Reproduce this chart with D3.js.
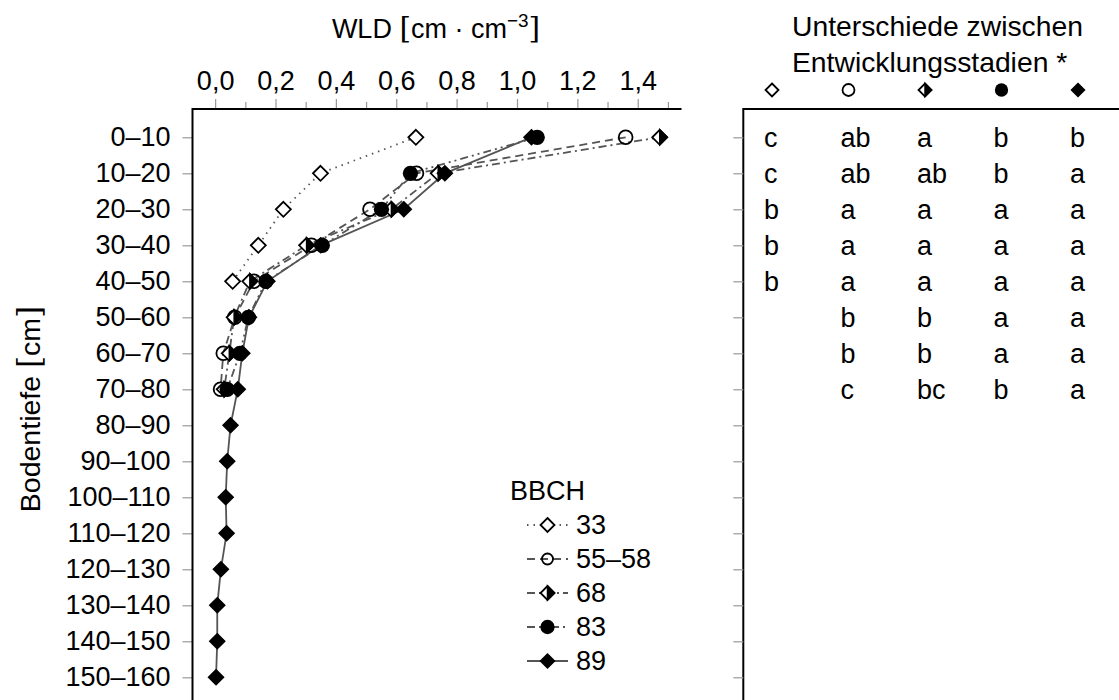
<!DOCTYPE html>
<html><head><meta charset="utf-8">
<script src="https://cdn.jsdelivr.net/npm/d3@7"></script>
<style>
body{margin:0;background:#fff;}
text{font-family:"Liberation Sans",Arial,Helvetica,sans-serif;fill:#000;}
</style></head>
<body><svg id="c" width="1119" height="700"></svg>
<script>
// ---------- data ----------
const depths = ["0–10","10–20","20–30","30–40","40–50","50–60","60–70","70–80",
  "80–90","90–100","100–110","110–120","120–130","130–140","140–150","150–160"];
const seriesNames = ["33","55–58","68","83","89"];
const wld33   = [0.665,0.349,0.226,0.143,0.058];
const wld5558 = [1.360,0.667,0.513,0.319,0.128,0.065,0.027,0.018];
const wld68   = [1.473,0.739,0.584,0.303,0.115,0.063,0.047,0.030];
const wld83   = [1.067,0.647,0.551,0.355,0.168,0.110,0.082,0.040];
const wld89   = [1.048,0.761,0.625,0.350,0.173,0.112,0.090,0.075,0.051,0.040,0.035,0.038,0.019,0.007,0.007,0.003];
const xMajorTicks = [0,0.2,0.4,0.6,0.8,1.0,1.2,1.4];
const xMinorTicks = [0.1,0.3,0.5,0.7,0.9,1.1,1.3,1.5];
const letters33   = ["c","c","b","b","b"];
const letters5558 = ["ab","ab","a","a","a","b","b","c"];
const letters68   = ["a","ab","a","a","a","b","b","bc"];
const letters83   = ["b","b","a","a","a","a","a","b"];
const letters89   = ["b","a","a","a","a","a","a","a"];

const markers = ["diamondOpen","circleOpen","diamondHalf","circleFilled","diamondFilled"];
const dashes  = ["1.5,5","8,5","8,4,2,4","8,4,2,4,2,4",null];
const values  = [wld33,wld5558,wld68,wld83,wld89];
const letters = [letters33,letters5558,letters68,letters83,letters89];

// ---------- layout ----------
const svg = d3.select("#c");
const FS = 27;
const topY = 109, leftX = 192.5, rightX = 681.5;
const x = d3.scaleLinear().domain([-0.075,1.545]).range([leftX,rightX]);
const y = d3.scalePoint().domain(depths).range([137.3,677.3]);
const fmt = d3.formatLocale({decimal:",",thousands:".",grouping:[3],currency:["","€"]}).format(".1f");
const lineCol = "#555";

// top axis
const gx = svg.append("g").attr("transform",`translate(0,${topY})`);
gx.call(d3.axisTop(x).tickValues(xMajorTicks).tickFormat(fmt).tickSizeInner(10).tickSizeOuter(0).tickPadding(9));
gx.select(".domain").remove();
gx.selectAll(".tick line").attr("stroke","#999").attr("stroke-width",1.2);
gx.selectAll(".tick text").attr("font-size",FS).attr("font-family",null);
const gxm = svg.append("g").attr("transform",`translate(0,${topY})`);
gxm.call(d3.axisTop(x).tickValues(xMinorTicks).tickFormat("").tickSizeInner(7).tickSizeOuter(0));
gxm.select(".domain").remove();
gxm.selectAll(".tick line").attr("stroke","#999").attr("stroke-width",1.2);

// left axis
const gy = svg.append("g").attr("transform",`translate(${leftX},0)`);
gy.call(d3.axisLeft(y).tickSizeInner(10).tickSizeOuter(0).tickPadding(12));
gy.select(".domain").remove();
gy.selectAll(".tick line").attr("stroke","#999").attr("stroke-width",1.2);
gy.selectAll(".tick text").attr("font-size",FS).attr("font-family",null);

// frame lines
svg.append("line").attr("x1",leftX).attr("x2",rightX).attr("y1",topY).attr("y2",topY).attr("stroke","#000").attr("stroke-width",2);
svg.append("line").attr("x1",leftX).attr("x2",leftX).attr("y1",topY-1).attr("y2",700).attr("stroke","#000").attr("stroke-width",2);

// titles
const xt = svg.append("text").attr("x",436).attr("y",38).attr("text-anchor","middle").attr("font-size",FS);
xt.append("tspan").text("WLD ");
xt.append("tspan").attr("font-family","DejaVu Serif").attr("font-weight","200").attr("font-size",FS*1.1).text("[");
xt.append("tspan").text("cm · cm");
xt.append("tspan").attr("font-size",FS*0.7).attr("dy",-11).text("−3");
xt.append("tspan").attr("font-family","DejaVu Serif").attr("font-weight","200").attr("font-size",FS*1.1).attr("dy",11).text("]");

const yt = svg.append("text").attr("transform","translate(40,409) rotate(-90)").attr("text-anchor","middle").attr("font-size",28.5);
yt.append("tspan").text("Bodentiefe ");
yt.append("tspan").attr("font-family","DejaVu Serif").attr("font-weight","200").attr("font-size",31).text("[");
yt.append("tspan").text("cm");
yt.append("tspan").attr("font-family","DejaVu Serif").attr("font-weight","200").attr("font-size",31).text("]");

// marker drawing
function drawMarker(g, type, cx, cy, s){
  const dia = `M${cx},${cy-s}L${cx+s},${cy}L${cx},${cy+s}L${cx-s},${cy}Z`;
  if(type==="diamondOpen"){
    g.append("path").attr("d",dia).attr("fill","#fff").attr("stroke","#000").attr("stroke-width",1.8);
  } else if(type==="diamondFilled"){
    g.append("path").attr("d",dia).attr("fill","#000").attr("stroke","#000").attr("stroke-width",1.5);
  } else if(type==="diamondHalf"){
    g.append("path").attr("d",dia).attr("fill","#fff").attr("stroke","#000").attr("stroke-width",1.8);
    g.append("path").attr("d",`M${cx},${cy-s}L${cx+s},${cy}L${cx},${cy+s}Z`).attr("fill","#000").attr("stroke","#000").attr("stroke-width",1.5);
  } else if(type==="circleOpen"){
    g.append("circle").attr("cx",cx).attr("cy",cy).attr("r",s*0.92).attr("fill","none").attr("stroke","#000").attr("stroke-width",1.8);
  } else if(type==="circleFilled"){
    g.append("circle").attr("cx",cx).attr("cy",cy).attr("r",s*1.02).attr("fill","#000");
  }
}

// series lines
const line = d3.line().x(d=>x(d.v)).y(d=>y(d.depth));
values.forEach((vals,i)=>{
  const pts = vals.map((v,j)=>({v,depth:depths[j]}));
  svg.append("path").datum(pts).attr("d",line).attr("fill","none")
    .attr("stroke",lineCol).attr("stroke-width",1.8)
    .attr("stroke-dasharray",dashes[i]);
});
values.forEach((vals,i)=>{
  const g = svg.append("g");
  vals.forEach((v,j)=>drawMarker(g,markers[i],x(v),y(depths[j]),7.5));
});

// legend
svg.append("text").attr("x",510).attr("y",500).attr("font-size",FS).text("BBCH");
const legY = d3.scalePoint().domain(seriesNames).range([525,661]);
seriesNames.forEach((n,i)=>{
  const ly = legY(n);
  svg.append("line").attr("x1",527).attr("x2",568).attr("y1",ly).attr("y2",ly)
    .attr("stroke",lineCol).attr("stroke-width",1.8).attr("stroke-dasharray",dashes[i]);
  drawMarker(svg,markers[i],547.5,ly,i===1?6:7);
  svg.append("text").attr("x",576).attr("y",ly).attr("dy","0.35em").attr("font-size",FS).text(n);
});

// right panel
const px = 743.3;
svg.append("line").attr("x1",px).attr("x2",px).attr("y1",topY-1).attr("y2",700).attr("stroke","#000").attr("stroke-width",2);
svg.append("line").attr("x1",px).attr("x2",1119).attr("y1",topY).attr("y2",topY).attr("stroke","#000").attr("stroke-width",2);
const gy2 = svg.append("g").attr("transform",`translate(${px},0)`);
gy2.call(d3.axisLeft(y).tickSizeInner(10).tickSizeOuter(0).tickFormat(""));
gy2.select(".domain").remove();
gy2.selectAll(".tick line").attr("stroke","#999").attr("stroke-width",1.2);

svg.append("text").attr("x",792).attr("y",36).attr("font-size",28.3).text("Unterschiede zwischen");
svg.append("text").attr("x",792).attr("y",72).attr("font-size",28.3).text("Entwicklungsstadien *");
const colX = d3.scalePoint().domain(seriesNames).range([772,1078]);
seriesNames.forEach((n,i)=>{
  drawMarker(svg,markers[i],colX(n),90,6.5);
  letters[i].forEach((l,j)=>{
    svg.append("text").attr("x",colX(n)-8).attr("y",y(depths[j])).attr("dy","0.35em")
      .attr("font-size",FS).text(l);
  });
});
</script></body></html>
